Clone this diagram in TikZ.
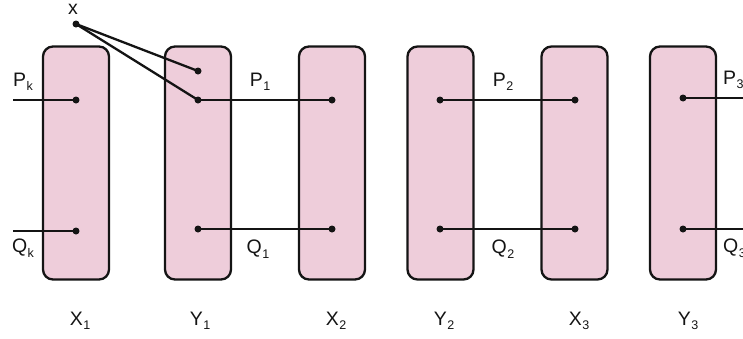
\documentclass[tikz,border=0pt]{standalone}
\usepackage{fontspec}
\setmainfont{Liberation Sans}
\definecolor{boxpink}{RGB}{238,205,218}
\definecolor{ink}{RGB}{20,20,20}
\tikzset{
  memb/.style={draw=ink, line width=2.3pt, fill=boxpink, rounded corners=10pt,
    minimum width=66pt, minimum height=233pt, inner sep=0pt},
  pt/.style={circle, fill=ink, inner sep=0pt, minimum size=7pt},
  wire/.style={draw=ink, line width=2.3pt},
  lab/.style={font=\fontsize{19.5}{21}\selectfont, text=ink, inner sep=0pt},
}
\newcommand{\sub}[2]{#1\kern0.5pt\raisebox{-4.5pt}{\fontsize{12.5}{13}\selectfont #2}}
\begin{document}
\begin{tikzpicture}[x=1pt,y=-1pt]
\useasboundingbox (0,0) rectangle (743,338);
% boxes
\node[memb] (X1) at (76,163) {};
\node[memb] (Y1) at (198,163) {};
\node[memb] (X2) at (332,163) {};
\node[memb] (Y2) at (440.5,163) {};
\node[memb] (X3) at (574.5,163) {};
\node[memb] (Y3) at (683,163) {};
% dots
\node[pt] (x) at (76,24) {};
\node[pt] (x1p) at (76,100) {};
\node[pt] (x1q) at (76,231) {};
\node[pt] (y1a) at (198,71) {};
\node[pt] (y1p) at (198,100) {};
\node[pt] (y1q) at (198,229) {};
\node[pt] (x2p) at (332,100) {};
\node[pt] (x2q) at (332,229) {};
\node[pt] (y2p) at (440,100) {};
\node[pt] (y2q) at (440,229) {};
\node[pt] (x3p) at (575,100) {};
\node[pt] (x3q) at (575,229) {};
\node[pt] (y3p) at (683,98) {};
\node[pt] (y3q) at (683,229) {};
\coordinate (lp) at (13,100);
\coordinate (lq) at (13,231);
\coordinate (rp) at (745,98);
\coordinate (rq) at (745,229);
% wires
\draw[wire] (lp) -- (x1p.center);
\draw[wire] (lq) -- (x1q.center);
\draw[wire] (x.center) -- (y1a.center);
\draw[wire] (x.center) -- (y1p.center);
\draw[wire] (y1p.center) -- (x2p.center);
\draw[wire] (y1q.center) -- (x2q.center);
\draw[wire] (y2p.center) -- (x3p.center);
\draw[wire] (y2q.center) -- (x3q.center);
\draw[wire] (y3p.center) -- (rp);
\draw[wire] (y3q.center) -- (rq);
% labels
\node[lab] (lx) at (73,9) {x};
\node[lab] (lPk) at (23,82) {\sub{P}{k}};
\node[lab] (lQk) at (23,248) {\sub{Q}{k}};
\node[lab] (lP1) at (260,82) {\sub{P}{1}};
\node[lab] (lQ1) at (258,249) {\sub{Q}{1}};
\node[lab] (lP2) at (503,82) {\sub{P}{2}};
\node[lab] (lQ2) at (503,249) {\sub{Q}{2}};
\node[lab, anchor=west] (lP3) at (723,80) {\sub{P}{3}};
\node[lab, anchor=west] (lQ3) at (723,248) {\sub{Q}{3}};
\node[lab] (lX1) at (80,321) {\sub{X}{1}};
\node[lab] (lY1) at (200,321) {\sub{Y}{1}};
\node[lab] (lX2) at (336,321) {\sub{X}{2}};
\node[lab] (lY2) at (444,321) {\sub{Y}{2}};
\node[lab] (lX3) at (579,321) {\sub{X}{3}};
\node[lab] (lY3) at (688,321) {\sub{Y}{3}};
\end{tikzpicture}
\end{document}
